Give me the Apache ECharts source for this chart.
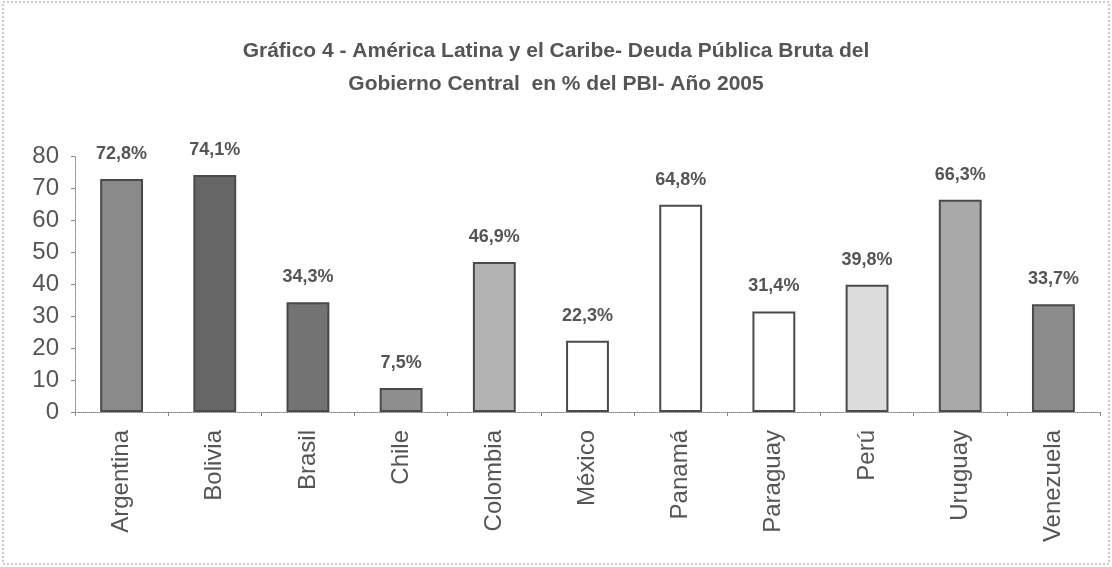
<!DOCTYPE html>
<html>
<head>
<meta charset="utf-8">
<script src="https://cdn.jsdelivr.net/npm/echarts@6/dist/echarts.min.js"></script>
<style>
  html, body { margin: 0; padding: 0; background: #fff; }
  #chart { width: 1112px; height: 567px; }
</style>
</head>
<body>
<div id="chart"></div>
<script>
// paises (eje x)
var paises = ['Argentina', 'Bolivia', 'Brasil', 'Chile', 'Colombia', 'México',
    'Panamá', 'Paraguay', 'Perú', 'Uruguay', 'Venezuela'];

// deuda publica bruta en % del PBI
var deuda = [72.8, 74.1, 34.3, 7.5, 46.9, 22.3, 64.8, 31.4, 39.8, 66.3, 33.7];

// relleno de cada barra
var rellenos = ['#8a8a8a', '#666666', '#737373', '#8e8e8e', '#b3b3b3', '#ffffff',
    '#ffffff', '#ffffff', '#dcdcdc', '#a9a9a9', '#8c8c8c'];

var myChart = echarts.init(document.getElementById('chart'));

var option = {
    backgroundColor: '#fff',
    animation: false,
    title: {
        text: 'Gráfico 4 - América Latina y el Caribe- Deuda Pública Bruta del\nGobierno Central  en % del PBI- Año 2005',
        left: 'center',
        top: 30,
        textStyle: {
            fontFamily: 'Liberation Sans, Arial, sans-serif',
            fontSize: 21,
            fontWeight: 'bold',
            color: '#555',
            lineHeight: 33
        }
    },
    graphic: [{
        type: 'rect',
        shape: { x: 3, y: 2, width: 1106, height: 562 },
        style: { fill: 'none', stroke: '#999', lineWidth: 1, lineDash: [2, 2] },
        silent: true
    }],
    grid: {
        left: 75,
        right: 12,
        top: 156,
        bottom: 155
    },
    xAxis: {
        type: 'category',
        data: paises,
        axisLine: { lineStyle: { color: '#888', type: 'dotted' } },
        axisTick: { show: true, length: 4, lineStyle: { color: '#888' } },
        axisLabel: {
            rotate: 90,
            margin: 18,
            fontFamily: 'Liberation Sans, Arial, sans-serif',
            fontSize: 24,
            color: '#555'
        }
    },
    yAxis: {
        type: 'value',
        min: 0,
        max: 80,
        interval: 10,
        splitLine: { show: false },
        axisLine: { show: true, lineStyle: { color: '#888', type: 'dotted' } },
        axisTick: { show: true, length: 4, lineStyle: { color: '#888' } },
        axisLabel: {
            margin: 16,
            fontFamily: 'Liberation Sans, Arial, sans-serif',
            fontSize: 24,
            color: '#555'
        }
    },
    series: [{
        type: 'bar',
        barWidth: '46%',
        data: deuda.map(function (v, i) {
            return {
                value: v,
                itemStyle: { color: rellenos[i], borderColor: '#4a4a4a', borderWidth: 2 }
            };
        }),
        label: {
            show: true,
            position: 'top',
            distance: 16,
            fontFamily: 'Liberation Sans, Arial, sans-serif',
            fontSize: 18,
            fontWeight: 'bold',
            color: '#555',
            formatter: function (p) {
                return p.value.toFixed(1).replace('.', ',') + '%';
            }
        }
    }]
};

myChart.setOption(option);
</script>
</body>
</html>
